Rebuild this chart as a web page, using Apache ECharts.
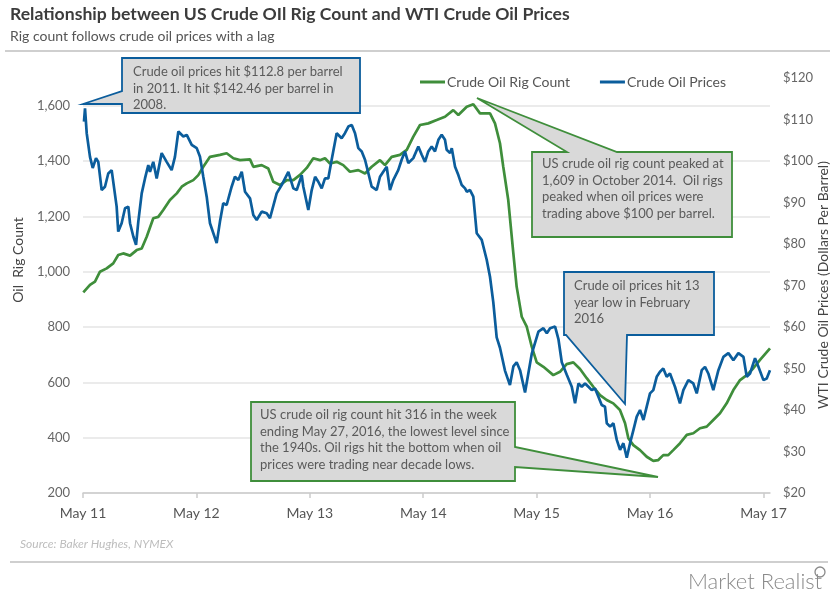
<!DOCTYPE html>
<html>
<head>
<meta charset="utf-8">
<script src="https://cdn.jsdelivr.net/npm/echarts@6/dist/echarts.min.js"></script>
<style>
html,body{margin:0;padding:0;background:#fff;}
#chart{width:837px;height:600px;}
</style>
</head>
<body>
<div id="chart"></div>
<script>
// ---- Data (decimal years / values) ----
const rigDates = [2011.336,2011.395,2011.439,2011.483,2011.542,2011.600,2011.644,2011.688,2011.748,2011.807,2011.851,2011.895,2011.953,2011.997,2012.041,2012.100,2012.160,2012.204,2012.248,2012.306,2012.350,2012.394,2012.453,2012.541,2012.600,2012.659,2012.718,2012.806,2012.835,2012.909,2012.967,2013.011,2013.070,2013.130,2013.188,2013.247,2013.306,2013.364,2013.423,2013.467,2013.511,2013.570,2013.628,2013.687,2013.761,2013.820,2013.879,2013.952,2013.996,2014.055,2014.128,2014.188,2014.246,2014.305,2014.378,2014.452,2014.525,2014.598,2014.643,2014.717,2014.775,2014.834,2014.922,2014.966,2015.010,2015.039,2015.083,2015.128,2015.157,2015.202,2015.246,2015.290,2015.334,2015.393,2015.480,2015.539,2015.598,2015.657,2015.716,2015.775,2015.833,2015.892,2015.951,2016.009,2016.068,2016.113,2016.142,2016.186,2016.245,2016.304,2016.362,2016.406,2016.450,2016.494,2016.538,2016.598,2016.657,2016.715,2016.774,2016.833,2016.891,2016.950,2017.009,2017.068,2017.127,2017.186,2017.244,2017.303,2017.391];
const rigCounts = [925,952,964,1000,1012,1030,1060,1066,1058,1078,1084,1126,1193,1198,1223,1259,1283,1307,1319,1331,1349,1379,1415,1422,1428,1410,1403,1406,1379,1385,1373,1325,1313,1331,1331,1350,1375,1410,1403,1410,1391,1397,1385,1361,1367,1355,1379,1403,1385,1415,1422,1440,1488,1530,1536,1548,1560,1584,1566,1596,1605,1572,1572,1536,1464,1379,1259,1066,946,837,801,729,672,656,626,638,666,672,648,615,584,554,536,524,500,452,398,373,355,331,316,319,337,337,355,380,410,416,434,440,464,488,524,572,608,626,651,681,723];

const priceDates = [2011.342,2011.351,2011.366,2011.395,2011.419,2011.448,2011.468,2011.498,2011.527,2011.556,2011.586,2011.600,2011.630,2011.644,2011.674,2011.704,2011.733,2011.748,2011.777,2011.801,2011.821,2011.851,2011.880,2011.909,2011.924,2011.953,2011.983,2012.027,2012.071,2012.115,2012.144,2012.174,2012.218,2012.248,2012.292,2012.336,2012.365,2012.394,2012.424,2012.453,2012.512,2012.541,2012.570,2012.600,2012.644,2012.673,2012.703,2012.733,2012.762,2012.806,2012.835,2012.865,2012.909,2012.953,2012.982,2013.041,2013.085,2013.144,2013.188,2013.218,2013.262,2013.276,2013.320,2013.350,2013.380,2013.408,2013.438,2013.467,2013.496,2013.526,2013.570,2013.614,2013.643,2013.673,2013.703,2013.732,2013.761,2013.791,2013.820,2013.850,2013.879,2013.923,2013.952,2013.981,2014.011,2014.040,2014.069,2014.113,2014.143,2014.172,2014.202,2014.246,2014.290,2014.320,2014.349,2014.378,2014.408,2014.437,2014.467,2014.496,2014.525,2014.540,2014.570,2014.585,2014.614,2014.643,2014.673,2014.702,2014.717,2014.746,2014.775,2014.805,2014.849,2014.893,2014.922,2014.951,2014.981,2015.010,2015.054,2015.098,2015.128,2015.157,2015.187,2015.231,2015.260,2015.290,2015.349,2015.393,2015.423,2015.452,2015.496,2015.526,2015.555,2015.599,2015.643,2015.672,2015.702,2015.731,2015.760,2015.790,2015.819,2015.848,2015.878,2015.907,2015.936,2015.952,2015.981,2016.010,2016.040,2016.069,2016.098,2016.128,2016.157,2016.187,2016.216,2016.245,2016.275,2016.304,2016.333,2016.362,2016.392,2016.421,2016.450,2016.480,2016.509,2016.553,2016.597,2016.627,2016.671,2016.715,2016.745,2016.789,2016.818,2016.847,2016.891,2016.936,2016.980,2017.024,2017.068,2017.112,2017.157,2017.186,2017.215,2017.259,2017.289,2017.333,2017.362,2017.391];
const prices = [109.5,112.7,106.7,101,98.3,100.7,99.8,93,93.8,97,97.8,97.4,89,83,85,88.6,89,85,81.8,79.8,85.4,92.2,95.8,99,97.4,99.8,95.8,101.9,99.8,97.8,101,107.1,105.9,106.3,103.9,103.1,101,96.2,91.4,85,80.2,85.4,89.8,89.4,93.8,96.2,95.4,97.4,92.6,91,87,85.8,87.8,87.4,86.2,92.2,94.2,97.4,93.4,93,96.6,93.8,88.2,93,96.2,95,93.4,95.8,95.8,100.3,106.7,105.5,106.7,108.3,108.7,106.7,103.1,102.3,100.3,97,93.8,93,96.2,97.4,98.6,93,95.4,97.8,100.3,102.3,99.5,100.7,103.5,101.5,99.8,102.3,103.5,102.3,105.1,106.3,105.1,102.7,101.9,103.1,98.6,96.6,94.2,93.4,92.6,93,91.4,82.6,81,76.2,72.1,66,57.5,55,49.5,46,50.5,51.5,49.6,44.2,48.8,53.5,58.9,59.7,58.5,59.7,60.1,57,51.5,48.5,45.6,41.6,46.4,45.6,46.4,45.6,44.8,45.2,43.2,41.2,40.8,36.8,36,36.8,32.8,30.4,32,28.5,32,35.2,38.4,40,37.6,40.8,44,44.8,48,49.2,50,48,48.8,45.6,41.6,44.8,47.2,46.4,44,49.6,50.4,48.8,44.8,49.6,52.8,53.7,52,53.7,52.8,48,48.8,52.5,50.4,47.2,47.6,49.6];

const xTicks = [2011.3333,2012.3333,2013.3333,2014.3333,2015.3333,2016.3333,2017.3333];
const xTickLabels = ['May 11','May 12','May 13','May 14','May 15','May 16','May 17'];
const seriesNames = ['Crude Oil Rig Count','Crude Oil Prices'];

// ---- Build chart ----
const FONT = 'Lato';
const GREEN = '#3f8e3b';
const BLUE = '#0b5d9c';
const chart = echarts.init(document.getElementById('chart'));

const rigData = rigDates.map((d,i)=>[d, rigCounts[i]]);
const priceData = priceDates.map((d,i)=>[d, prices[i]]);

function calloutText(x, y, lines) {
  return {type:'text', left:x, top:y, z:101, silent:true,
    style:{text:lines.join('\n'), fill:'#5a5a5a', font:'13px '+FONT, lineHeight:16.5}};
}
function callout(points, stroke) {
  return {type:'polygon', z:100, silent:true, shape:{points:points},
    style:{fill:'#d9d9d9', stroke:stroke, lineWidth:1.8}};
}

const option = {
  backgroundColor:'#fff',
  animation:false,
  textStyle:{fontFamily:FONT},
  grid:{left:83, right:67, top:78, bottom:107, containLabel:false},
  legend:{
    data:seriesNames, left:415, top:70, itemWidth:25, itemHeight:3, itemGap:30, icon:'rect',
    textStyle:{color:'#555', fontSize:14, fontFamily:FONT, padding:[0,0,0,-3]}
  },
  xAxis:{
    type:'value', min:2011.3333, max:2017.391,
    axisLine:{show:true, lineStyle:{color:'#cccccc', width:1.5}},
    axisTick:{show:true, customValues:xTicks, length:5, lineStyle:{color:'#cccccc', width:1.5}},
    axisLabel:{customValues:xTicks, color:'#555', fontSize:14, margin:13, fontFamily:FONT,
      formatter:function(v){let k=0,b=1e9;xTicks.forEach((t,i)=>{if(Math.abs(t-v)<b){b=Math.abs(t-v);k=i;}});return xTickLabels[k];}},
    splitLine:{show:false}
  },
  yAxis:[
    {type:'value', min:200, max:1700, interval:200, position:'left',
      axisLine:{show:false}, axisTick:{show:false},
      axisLabel:{color:'#666', fontSize:13, margin:13, fontFamily:FONT, showMaxLabel:false,
        formatter:function(v){return v.toLocaleString('en-US');}},
      splitLine:{show:true, showMaxLine:false, lineStyle:{color:'#e4e4e4', width:1.5}}
    },
    {type:'value', min:20, max:120, interval:10, position:'right',
      axisLine:{show:false}, axisTick:{show:false},
      axisLabel:{color:'#666', fontSize:13, margin:13, fontFamily:FONT, formatter:'${value}'},
      splitLine:{show:false}
    }
  ],
  series:[
    {name:seriesNames[0], type:'line', yAxisIndex:0, data:rigData, showSymbol:false, symbol:'none',
      lineStyle:{color:GREEN, width:2.7}, itemStyle:{color:GREEN}, z:2},
    {name:seriesNames[1], type:'line', yAxisIndex:1, data:priceData, showSymbol:false, symbol:'none',
      lineStyle:{color:BLUE, width:2.7}, itemStyle:{color:BLUE}, z:3}
  ],
  graphic:[
    {type:'text', left:10, top:5, style:{text:'Relationship between US Crude OIl Rig Count and WTI Crude Oil Prices', fill:'#3c3c3c', font:'bold 17.6px '+FONT}},
    {type:'text', left:10, top:29, style:{text:'Rig count follows crude oil prices with a lag', fill:'#555', font:'14px '+FONT}},
    {type:'line', shape:{x1:5,y1:51,x2:830,y2:51}, style:{stroke:'#cfcfcf', lineWidth:2}},
    {type:'line', shape:{x1:10,y1:562,x2:828,y2:562}, style:{stroke:'#cfcfcf', lineWidth:2}},
    {type:'text', left:20, top:538, style:{text:'Source: Baker Hughes, NYMEX', fill:'#bdbdbd', font:'italic 12px '+FONT}},
    {type:'text', left:688, top:571, style:{text:'Market Realist', fill:'#8a8a8a', font:'300 22px '+FONT}},
    {type:'circle', shape:{cx:820, cy:572, r:5}, style:{fill:'none', stroke:'#8a8a8a', lineWidth:1.3}},
    {type:'text', x:18, y:260, rotation:Math.PI/2, style:{text:'Oil  Rig Count', fill:'#444', font:'14px '+FONT, align:'center', verticalAlign:'middle'}},
    {type:'text', x:823, y:285, rotation:Math.PI/2, style:{text:'WTI Crude Oil Prices (Dollars Per Barrel)', fill:'#444', font:'14px '+FONT, align:'center', verticalAlign:'middle'}},
    callout([[122,58],[360,58],[360,113],[122,113],[122,104],[83,104],[122,91]], BLUE),
    calloutText(133,64,['Crude oil prices hit $112.8 per barrel','in 2011. It hit $142.46 per barrel in','2008.']),
    callout([[532,152],[567,152],[477,98],[617,152],[732,152],[732,237],[532,237]], GREEN),
    calloutText(542,156,['US crude oil rig count peaked at','1,609 in October 2014.  Oil rigs','peaked when oil prices were','trading above $100 per barrel.']),
    callout([[564,272],[714,272],[714,335],[627,335],[625,404],[566,335],[564,335]], BLUE),
    calloutText(574,278,['Crude oil prices hit 13','year low in February','2016']),
    callout([[251,402],[515,402],[515,447],[658,477],[515,467],[515,481],[251,481]], GREEN),
    calloutText(260,407,['US crude oil rig count hit 316 in the week','ending May 27, 2016, the lowest level since','the 1940s. Oil rigs hit the bottom when oil','prices were trading near decade lows.'])
  ]
};
chart.setOption(option);
</script>
</body>
</html>
